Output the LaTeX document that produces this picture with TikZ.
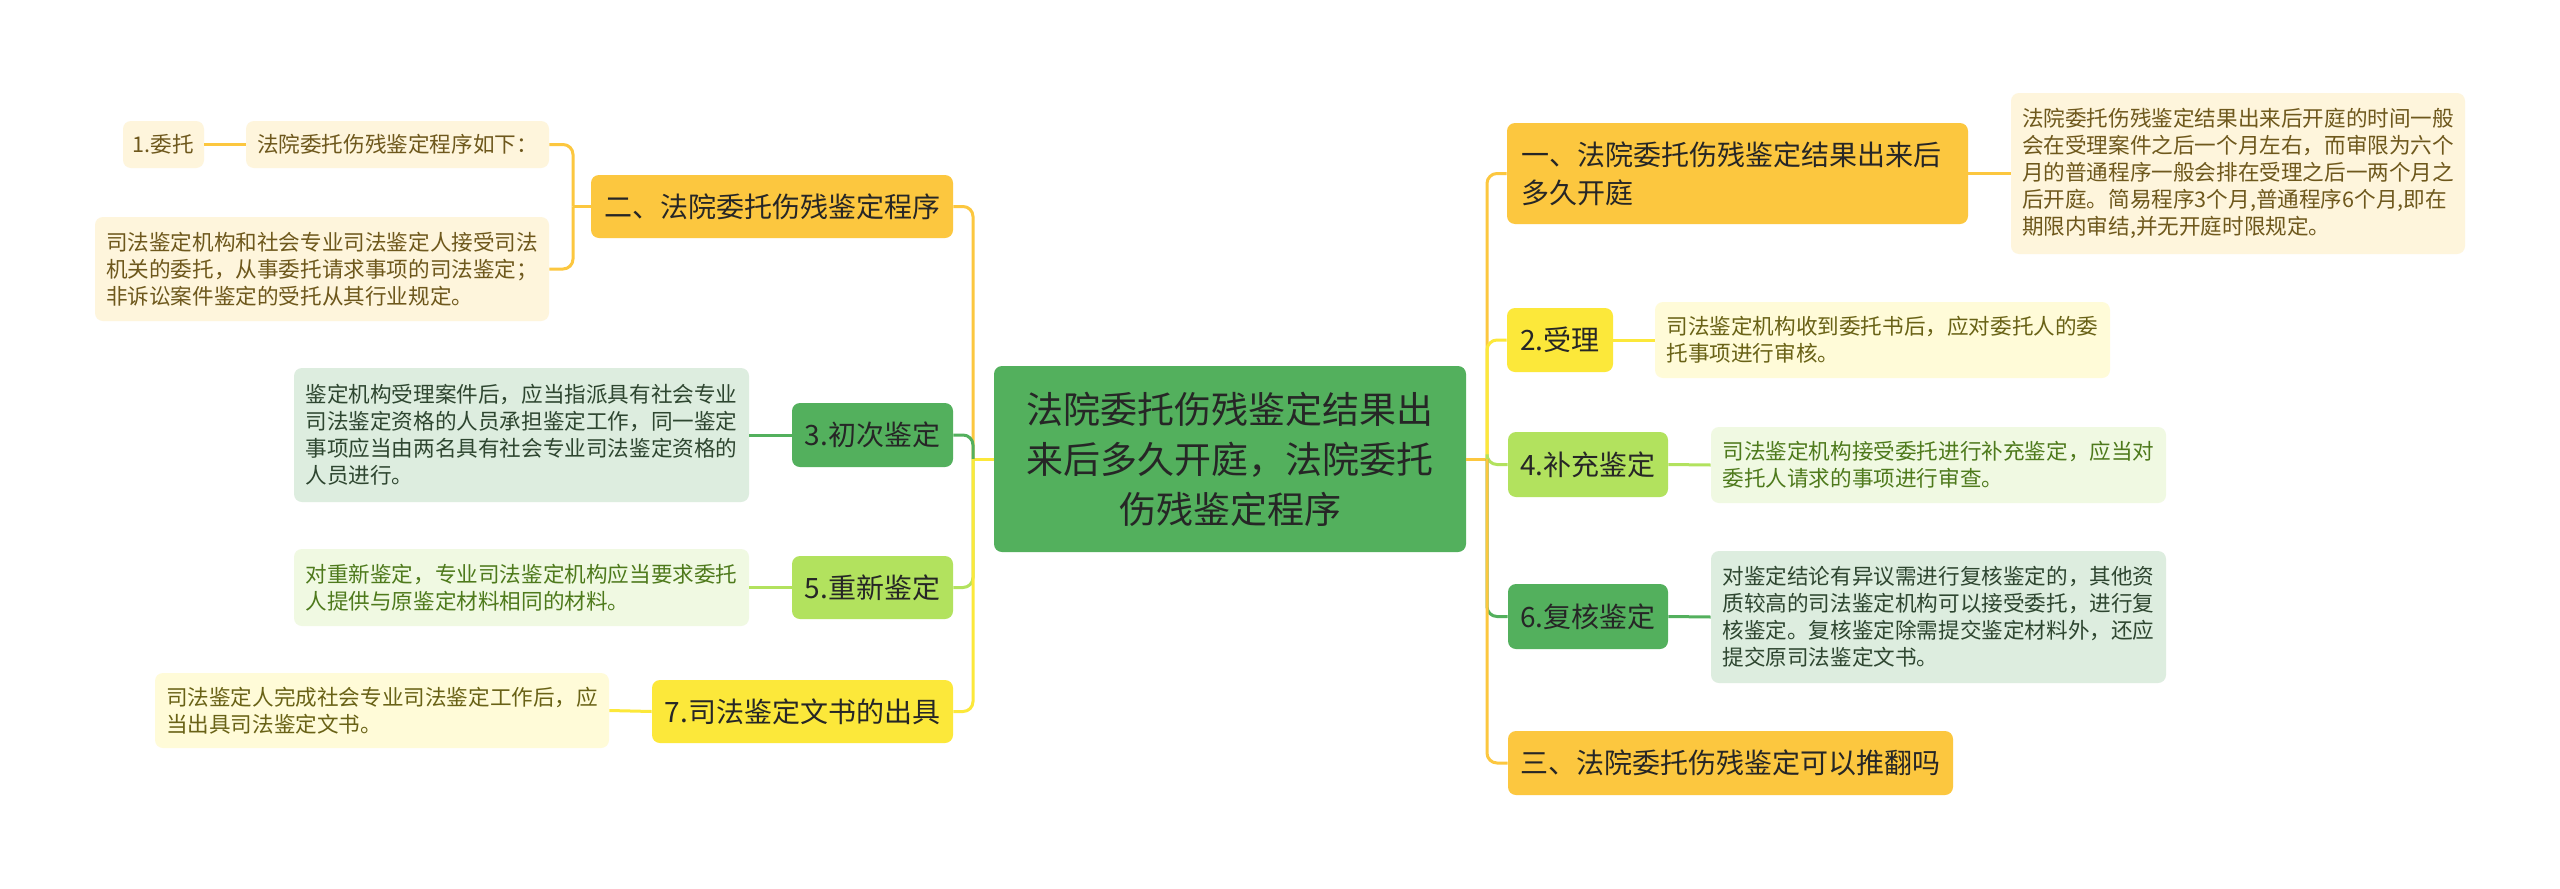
\documentclass[tikz,border=0pt]{standalone}
\usepackage{fontspec}
\setmainfont{Noto Sans CJK SC}
\usepackage{tikz}

\definecolor{orangeA}{RGB}{252,199,63}
\definecolor{yellowA}{RGB}{252,232,58}
\definecolor{greenA}{RGB}{83,176,93}
\definecolor{limeA}{RGB}{178,226,94}
\definecolor{creamA}{RGB}{254,245,220}
\definecolor{creamB}{RGB}{255,251,216}
\definecolor{mintA}{RGB}{221,237,223}
\definecolor{mintB}{RGB}{240,249,226}
\definecolor{txtA}{RGB}{38,38,38}
\definecolor{brownA}{RGB}{110,88,28}
\definecolor{oliveA}{RGB}{105,98,22}
\definecolor{leafgA}{RGB}{78,122,28}
\definecolor{darkgA}{RGB}{46,70,48}

\tikzset{
  box/.style={rounded corners=4pt, inner sep=0pt, align=left, text=txtA},
  topic/.style={box, font=\fontsize{14}{19}\selectfont},
  note/.style={box, font=\fontsize{10.8}{13.5}\selectfont},
  noteO/.style={note, fill=creamA, text=brownA},
  noteY/.style={note, fill=creamB, text=oliveA},
  noteG/.style={note, fill=mintA, text=darkgA},
  noteL/.style={note, fill=mintB, text=leafgA},
  link/.style={line width=1.5pt, rounded corners=5pt},
}

\begin{document}
\begin{tikzpicture}[x=0.5pt,y=-0.5pt]
    \fill[white] (0,0) rectangle (2560,889);

    \node[box, fill=greenA, align=center, minimum width=236pt, minimum height=93pt,
          font=\fontsize{18.5}{25}\selectfont] (root) at (1230,459)
        {法院委托伤残鉴定结果出\\来后多久开庭，法院委托\\伤残鉴定程序};

    % left side
    \node[topic, fill=orangeA, minimum width=181pt, minimum height=31.5pt] (proc) at (772,206.5) {二、法院委托伤残鉴定程序};
    \node[topic, fill=greenA, minimum width=80.5pt, minimum height=32pt] (first) at (872.5,435) {3.初次鉴定};
    \node[topic, fill=limeA, minimum width=80.5pt, minimum height=31.5pt] (redo) at (872.5,587.5) {5.重新鉴定};
    \node[topic, fill=yellowA, minimum width=150.5pt, minimum height=31.5pt] (doc) at (802.5,711.5) {7.司法鉴定文书的出具};

    \node[noteO, minimum width=40.5pt, minimum height=23.5pt] (entrust) at (163.5,144.5) {1.委托};
    \node[noteO, minimum width=151.5pt, minimum height=23.5pt] (entrust-t) at (397.5,144.5) {法院委托伤残鉴定程序如下：};
    \node[noteO, minimum width=227pt, minimum height=52pt] (proc-t) at (322,269)
        {司法鉴定机构和社会专业司法鉴定人接受司法\\机关的委托，从事委托请求事项的司法鉴定；\\非诉讼案件鉴定的受托从其行业规定。};
    \node[noteG, minimum width=227.5pt, minimum height=67pt] (first-t) at (521.5,435)
        {鉴定机构受理案件后，应当指派具有社会专业\\司法鉴定资格的人员承担鉴定工作，同一鉴定\\事项应当由两名具有社会专业司法鉴定资格的\\人员进行。};
    \node[noteL, minimum width=227.5pt, minimum height=38.5pt] (redo-t) at (521.5,587.5)
        {对重新鉴定，专业司法鉴定机构应当要求委托\\人提供与原鉴定材料相同的材料。};
    \node[noteY, minimum width=227pt, minimum height=37.5pt] (doc-t) at (382,710.5)
        {司法鉴定人完成社会专业司法鉴定工作后，应\\当出具司法鉴定文书。};

    % right side
    \node[topic, fill=orangeA, text width=216.5pt, inner xsep=7pt, minimum height=50.5pt] (when) at (1737.5,173.5)
        {一、法院委托伤残鉴定结果出来后\\多久开庭};
    \node[topic, fill=yellowA, minimum width=53pt, minimum height=32pt] (accept) at (1560,340) {2.受理};
    \node[topic, fill=limeA, minimum width=80pt, minimum height=32.5pt] (supp) at (1588,464.5) {4.补充鉴定};
    \node[topic, fill=greenA, minimum width=80pt, minimum height=32.5pt] (recheck) at (1588,616.5) {6.复核鉴定};
    \node[topic, fill=orangeA, minimum width=222.5pt, minimum height=32pt] (overturn) at (1730.5,763) {三、法院委托伤残鉴定可以推翻吗};

    \node[noteO, minimum width=227pt, minimum height=80.5pt] (when-t) at (2238,173.5)
        {法院委托伤残鉴定结果出来后开庭的时间一般\\会在受理案件之后一个月左右，而审限为六个\\月的普通程序一般会排在受理之后一两个月之\\后开庭。简易程序3个月,普通程序6个月,即在\\期限内审结,并无开庭时限规定。};
    \node[noteY, minimum width=227.5pt, minimum height=38pt] (accept-t) at (1882.5,340)
        {司法鉴定机构收到委托书后，应对委托人的委\\托事项进行审核。};
    \node[noteL, minimum width=227.5pt, minimum height=38pt] (supp-t) at (1938.5,465)
        {司法鉴定机构接受委托进行补充鉴定，应当对\\委托人请求的事项进行审查。};
    \node[noteG, minimum width=227.5pt, minimum height=66pt] (recheck-t) at (1938.5,617)
        {对鉴定结论有异议需进行复核鉴定的，其他资\\质较高的司法鉴定机构可以接受委托，进行复\\核鉴定。复核鉴定除需提交鉴定材料外，还应\\提交原司法鉴定文书。};

    % trunks
    \coordinate (lj) at (973,459);
    \coordinate (rj) at (1487,459);
    \coordinate (pj) at (573,206.5);

    \draw[link, yellowA] (root.west) -- (lj);
    \draw[link, orangeA] (lj) -- (lj |- proc) -- (proc.east);
    \draw[link, greenA] (lj) -- (lj |- first) -- (first.east);
    \draw[link, limeA] (lj) -- (lj |- redo) -- (redo.east);
    \draw[link, yellowA] (lj) -- (lj |- doc) -- (doc.east);

    \draw[link, orangeA] (root.east) -- (rj);
    \draw[link, orangeA] (rj) -- (rj |- when) -- (when.west);
    \draw[link, yellowA] (rj) -- (rj |- accept) -- (accept.west);
    \draw[link, limeA] (rj) -- (rj |- supp) -- (supp.west);
    \draw[link, greenA] (rj) -- (rj |- recheck) -- (recheck.west);
    \draw[link, orangeA] (rj) -- (rj |- overturn) -- (overturn.west);

    % leaves
    \draw[link, orangeA] (proc.west) -- (pj);
    \draw[link, orangeA] (pj) -- (pj |- entrust-t) -- (entrust-t.east);
    \draw[link, orangeA] (pj) -- (pj |- proc-t) -- (proc-t.east);
    \draw[link, orangeA] (entrust.east) -- (entrust-t.west);
    \draw[link, greenA] (first.west) -- (first-t.east);
    \draw[link, limeA] (redo.west) -- (redo-t.east);
    \draw[link, yellowA] (doc.west) -- (doc-t.east);

    \draw[link, orangeA] (when.east) -- (when-t.west);
    \draw[link, yellowA] (accept.east) -- (accept-t.west);
    \draw[link, limeA] (supp.east) -- (supp-t.west);
    \draw[link, greenA] (recheck.east) -- (recheck-t.west);
\end{tikzpicture}
\end{document}
